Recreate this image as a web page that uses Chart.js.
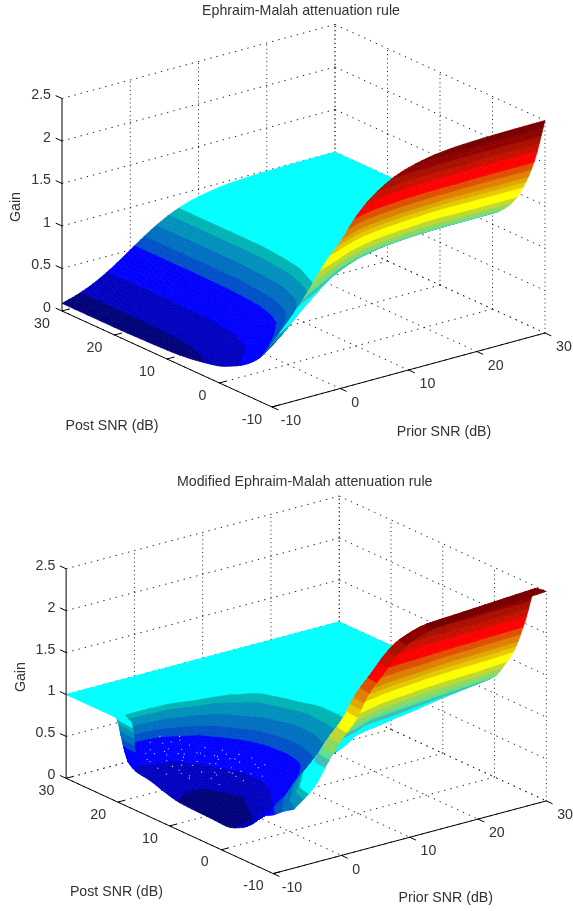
<!DOCTYPE html>
<html>
<head>
<meta charset="utf-8">
<title>Ephraim-Malah attenuation rule</title>
<script src="https://cdn.jsdelivr.net/npm/chart.js@4"></script>
<style>
  html, body { margin: 0; padding: 0; background: #fff; }
  canvas { position: absolute; left: 0; }
</style>
</head>
<body>
<canvas id="topChart" width="573" height="455" style="top:0"></canvas>
<canvas id="bottomChart" width="573" height="456" style="top:455px"></canvas>
<script>
// axis ticks
const priorTicks = [-10, 0, 10, 20, 30];
const postTicks = [30, 20, 10, 0, -10];
const gainTicks = [0, 0.5, 1, 1.5, 2, 2.5];

// top surface, one row per prior value, one column per post value
const emPrior = [30, 24, 18, 14, 10, 8, 6, 4, 2, 0, -2, -4, -6, -8, -10];
const emPost = [30, 20, 15, 10, 6, 4, 2, 0, -2, -4, -6, -8, -10];
const emGain = [
  [1, 1, 1, 1.01, 1.03, 1.05, 1.08, 1.13, 1.23, 1.38, 1.62, 1.97, 2.5],
  [.996, .996, .996, 1.006, 1.026, 1.048, 1.08, 1.128, 1.23, 1.38, 1.62, 1.97, 2.495],
  [.984, .984, .984, .994, 1.013, 1.037, 1.068, 1.117, 1.22, 1.39, 1.63, 1.95, 2.48],
  [.962, .962, .962, .972, .991, 1.015, 1.044, 1.092, 1.193, 1.356, 1.587, 1.924, 2.45],
  [.909, .909, .909, .918, .941, .964, .995, 1.036, 1.145, 1.3, 1.527, 1.864, 2.38],
  [.863, .863, .863, .876, .893, .919, .949, .988, 1.096, 1.25, 1.484, 1.81, 2.32],
  [.8, .8, .8, .812, .832, .856, .888, .928, 1.032, 1.184, 1.408, 1.744, 2.23],
  [.715, .715, .715, .729, .744, .772, .8, .844, .951, 1.1, 1.316, 1.645, 2.11],
  [.613, .613, .613, .625, .644, .665, .7, .748, .846, .993, 1.195, 1.49, 1.94],
  [.5, .5, .505, .513, .535, .555, .585, .635, .735, .87, 1.05, 1.325, 1.72],
  [.387, .387, .391, .399, .418, .441, .476, .522, .615, .739, .91, 1.153, 1.55],
  [.285, .285, .288, .296, .319, .339, .373, .419, .504, .613, .77, .983, 1.325],
  [.2, .2, .204, .214, .234, .256, .288, .328, .4, .5, .63, .81, 1.11],
  [.137, .138, .141, .151, .171, .193, .222, .258, .326, .404, .507, .664, .92],
  [.09, .09, .096, .105, .126, .146, .17, .2, .255, .32, .41, .54, .75],
];

// bottom surface, null where the surface has no value
const modPrior = [30, 24, 18, 14, 10, 8, 6, 4, 2, 0, -2, -4, -7, -8, -10];
const modPost = [30, 26, 24, 22, 20, 18, 15, 12, 9, 6, 3, 0, -2, -4, -6, -8, -10];
const modGain = [
  [1, 1, 1, 1, 1, 1, 1, 1, 1, 1.02, 1.06, 1.2, 1.4, 1.65, 2.05, 2.48, 2.5],
  [1, 1, 1, 1, 1, .98, .97, .96, .96, .97, .99, 1.15, 1.33, 1.58, 1.98, 2.45, 2.47],
  [1, 1, 1, .98, .96, .93, .9, .87, .84, .85, .9, 1.08, 1.27, 1.52, 1.9, 2.42, 2.44],
  [1, 1, 1, .94, .92, .89, .86, .84, .84, .85, .88, 1, 1.22, 1.44, 1.8, 2.4, 2.42],
  [1, 1, .98, .88, .81, .78, .74, .71, .71, .74, .8, .95, 1.15, 1.36, 1.7, 2.3, 2.32],
  [1, 1, .96, .84, .78, .73, .66, .63, .62, .65, .72, .85, 1.05, 1.28, 1.6, 2.18, 2.2],
  [1, 1, .94, .8, .72, .66, .57, .53, .52, .55, .63, .78, .98, 1.2, 1.5, 2, 2.02],
  [1, 1, .92, .76, .64, .56, .47, .42, .41, .45, .55, .7, .9, 1.12, 1.42, 1.82, 1.84],
  [1, 1, .88, .7, .54, .47, .38, .31, .3, .36, .46, .62, .8, 1.02, 1.28, 1.54, 1.56],
  [1, 1, .84, .62, .44, .34, .26, .18, .16, .22, .35, .52, .72, .92, 1.14, 1.36, 1.38],
  [1, 1, .84, .5, .32, .28, .17, .15, .14, .15, .2, .36, .54, .74, .92, 1.13, 1.15],
  [1, 1, .82, .42, .3, .26, .17, .14, .13, .13, .14, .26, .42, .6, .72, .88, .9],
  [1, 1, .84, .36, .28, .26, .2, .155, .145, .14, .13, .2, .3, .45, .52, .62, .7],
  [1, 1, 1, .97, .9, null, null, null, null, null, null, null, null, null, null, null, null],
  [1, 1, 1, 1, 1, null, null, null, null, null, null, null, null, null, null, null, null],
];

// white specks in the lower surface
const speckPrior = [-6.2, -5.4, -5.1, -4.3, -3.9, -4.6, -3.2, -2.7, -3.4, -2.9, -2.2, -1.6, -2.4, -1.8, -.7, -1.3, -.9, -1.2, -.4, .3, -.2, .6, .1, -.3, 1.4, .8, 1.2, .7, 2.3, 1.7, 2.6, 3.4, 2.8, -5.3, -3.3, -.6, 1.3, 3.2, 4.1, -1.7, .4, 2.2, -4.5, -2.4, -.5, 1.6, 3.6, -3.6, -1.4, .5, 2.4, -5.6, -.4, 1.5, -6.6, -4.8, -2.1, .9, 3, 4.6, -3.8, -.8, 1.9, 4.4];
const speckPost = [17.3, 20.4, 14.2, 22.1, 18.6, 15.3, 22.7, 20.2, 16.4, 13.2, 21.3, 18.4, 15.6, 12.1, 23.6, 21.7, 19.2, 16.3, 12.8, 23.3, 20.6, 17.2, 14.4, 10.7, 21.2, 18.3, 15.4, 12.2, 19.4, 16.2, 13.1, 17.5, 14.3, 12.4, 10.8, 9.6, 9.2, 10.3, 15.2, 24.7, 25.6, 24.2, 16.7, 17.6, 14.8, 16.6, 11.4, 21.4, 19.7, 18.6, 14.7, 19.6, 11.2, 23.2, 15.1, 13, 11.3, 10.6, 16.2, 13.4, 8.6, 7.9, 7.8, 10.6];
const speckGain = 0.4;

// colour bands, upper limit of each band and its colour
const bandTops = [.16, .32, .54, .62, .71, .79, .84, 1.1, 1.18, 1.25, 1.35, 1.45, 1.6, 1.68, 1.75, 1.85, 1.95, 2.1, 2.2, 2.3, 2.4, 3];
const bandColors = ["#00007a", "#0000c0", "#0000ff", "#0050c8", "#0070c0", "#0090bc", "#00b4b4", "#00ffff",
  "#40c0b0", "#60e090", "#90d860", "#c0d830", "#ffff00", "#e8c800", "#e0a800", "#e08000", "#e05000",
  "#ff0000", "#c81000", "#a81000", "#900000", "#780000"];

// cells are drawn in this many steps so the contour edges stay smooth
const cellSteps = 4;

// cut a polygon at a gain level
function clipGain(poly, limit, keepBelow) {
  const out = [];
  for (let i = 0; i < poly.length; i++) {
    const a = poly[i], b = poly[(i + 1) % poly.length];
    const aIn = keepBelow ? a[2] <= limit : a[2] >= limit;
    const bIn = keepBelow ? b[2] <= limit : b[2] >= limit;
    if (aIn) out.push(a);
    if (aIn !== bIn) {
      const t = (limit - a[2]) / (b[2] - a[2]);
      out.push([a[0] + t * (b[0] - a[0]), a[1] + t * (b[1] - a[1]), limit]);
    }
  }
  return out;
}

// monotone curve through one line of read values, so a cell never overshoots
function refineLine(xs, ys) {
  let n = ys.findIndex((v) => v === null);
  if (n < 0) n = ys.length;
  const out = new Array((ys.length - 1) * cellSteps + 1).fill(null);
  if (n < 2) {
    if (n === 1) out[0] = ys[0];
    return out;
  }
  const sec = [];
  for (let i = 0; i < n - 1; i++) sec.push((ys[i + 1] - ys[i]) / (xs[i + 1] - xs[i]));
  const m = [];
  for (let i = 0; i < n; i++) {
    if (i === 0) m.push(sec[0]);
    else if (i === n - 1) m.push(sec[n - 2]);
    else if (sec[i - 1] * sec[i] <= 0) m.push(0);
    else m.push(2 * sec[i - 1] * sec[i] / (sec[i - 1] + sec[i]));
  }
  for (let i = 0; i < n - 1; i++) {
    const h = xs[i + 1] - xs[i];
    for (let k = 0; k < cellSteps; k++) {
      const t = k / cellSteps, t2 = t * t, t3 = t2 * t;
      out[i * cellSteps + k] = (2 * t3 - 3 * t2 + 1) * ys[i] + (t3 - 2 * t2 + t) * h * m[i]
        + (-2 * t3 + 3 * t2) * ys[i + 1] + (t3 - t2) * h * m[i + 1];
    }
  }
  out[(n - 1) * cellSteps] = ys[n - 1];
  return out;
}

function fineAxis(xs) {
  const out = [];
  for (let i = 0; i < xs.length - 1; i++) {
    for (let k = 0; k < cellSteps; k++) out.push(xs[i] + (xs[i + 1] - xs[i]) * k / cellSteps);
  }
  out.push(xs[xs.length - 1]);
  return out;
}

function buildSurface(project, priors, posts, gains) {
  const byPost = gains.map((row) => refineLine(posts, row));
  const fineP = fineAxis(priors), fineQ = fineAxis(posts);
  const columns = fineQ.map((q, j) => refineLine(priors, byPost.map((row) => row[j])));
  const z = (i, j) => columns[j][i];

  const sets = [];
  // far corner first so nearer cells paint over it
  for (let ci = 0; ci < priors.length - 1; ci++) {
    for (let cj = 0; cj < posts.length - 1; cj++) {
      const bands = bandTops.map(() => []);
      for (let i = ci * cellSteps; i < (ci + 1) * cellSteps; i++) {
        for (let j = cj * cellSteps; j < (cj + 1) * cellSteps; j++) {
          const g = [z(i, j), z(i + 1, j), z(i + 1, j + 1), z(i, j + 1)];
          if (g.includes(null)) continue;
          const a = [fineP[i], fineQ[j], g[0]];
          const b = [fineP[i + 1], fineQ[j], g[1]];
          const c = [fineP[i + 1], fineQ[j + 1], g[2]];
          const d = [fineP[i], fineQ[j + 1], g[3]];
          [[a, b, c], [a, c, d]].forEach((tri) => {
            let lo = 0;
            bandTops.forEach((hi, b2) => {
              let poly = clipGain(tri, lo, false);
              if (poly.length) poly = clipGain(poly, hi, true);
              lo = hi;
              if (poly.length < 3) return;
              const pts = poly.map((v) => project(v[0], v[1], v[2]));
              pts.push(pts[0]);
              if (bands[b2].length) bands[b2].push({ x: NaN, y: NaN });
              bands[b2].push(...pts);
            });
          });
        }
      }
      bands.forEach((data, b2) => {
        if (!data.length) return;
        sets.push({
          data,
          fill: "shape",
          backgroundColor: bandColors[b2],
          borderColor: bandColors[b2],
          borderWidth: 0.7,
          // a dash list keeps every vertex, the plain path merges points per pixel
          borderDash: [10000, 0],
        });
      });
    }
  }
  return sets;
}

function buildBox(project) {
  const dotted = (from, to, dash) => ({
    data: [project(...from), project(...to)],
    borderColor: "#222",
    borderWidth: 1,
    borderDash: dash,
  });
  const solid = (from, to) => ({
    data: [project(...from), project(...to)],
    borderColor: "#000",
    borderWidth: 1,
  });
  const back = [], front = [];
  const slanted = [1.4, 5], upright = [1, 3.2];
  priorTicks.forEach((p) => {
    back.push(dotted([p, 30, 0], [p, -10, 0], slanted));
    if (p > -10) back.push(dotted([p, 30, 0], [p, 30, 2.5], upright));
  });
  postTicks.forEach((q) => {
    back.push(dotted([-10, q, 0], [30, q, 0], slanted));
    back.push(dotted([30, q, 0], [30, q, 2.5], upright));
  });
  gainTicks.forEach((z) => {
    back.push(dotted([-10, 30, z], [30, 30, z], slanted));
    back.push(dotted([30, 30, z], [30, -10, z], slanted));
    front.push(solid([-10, 30, z], [-10, 31.2, z]));
  });
  front.push(solid([-10, 30, 0], [-10, 30, 2.5]));
  front.push(solid([-10, 30, 0], [-10, -10, 0]));
  front.push(solid([-10, -10, 0], [30, -10, 0]));
  postTicks.forEach((q) => front.push(solid([-10, q, 0], [-9, q, 0])));
  priorTicks.forEach((p) => front.push(solid([p, -10, 0], [p, -11.2, 0])));
  return { back, front };
}

const textPlugin = {
  id: "plotText",
  afterDraw(chart, args, opts) {
    const ctx = chart.ctx;
    const sx = chart.scales.x, sy = chart.scales.y;
    ctx.save();
    ctx.fillStyle = "#333";
    ctx.font = '14.2px "Liberation Sans"';
    ctx.textBaseline = "middle";
    opts.items.forEach((t) => {
      ctx.save();
      ctx.translate(sx.getPixelForValue(t.x), sy.getPixelForValue(t.y));
      if (t.rotate) ctx.rotate(t.rotate);
      ctx.textAlign = t.align || "center";
      ctx.fillText(t.text, 0, 0);
      ctx.restore();
    });
    ctx.restore();
  },
};

function drawPlot(id, view, title, priors, posts, gains, specks) {
  const project = (p, q, z) => ({
    x: view.origin[0] + (p + 10) * view.priorStep[0] + (30 - q) * view.postStep[0],
    y: view.origin[1] + (p + 10) * view.priorStep[1] + (30 - q) * view.postStep[1] - z * view.gainStep,
  });

  const box = buildBox(project);
  const surface = buildSurface(project, priors, posts, gains);
  const extra = specks ? [{
    data: speckPrior.map((p, i) => project(p, speckPost[i], speckGain)),
    showLine: false,
    pointRadius: 0.6,
    pointBorderWidth: 0,
    pointBackgroundColor: "#dfe8ff",
  }] : [];

  const items = [
    { text: title, x: view.titleAt[0], y: view.titleAt[1] },
    { text: "Gain", x: view.gainAt[0], y: view.gainAt[1], rotate: -Math.PI / 2 },
    { text: "Post SNR (dB)", x: view.postAt[0], y: view.postAt[1] },
    { text: "Prior SNR (dB)", x: view.priorAt[0], y: view.priorAt[1] },
  ];
  gainTicks.forEach((z) => {
    const at = project(-10, 30, z);
    items.push({ text: String(z), x: at.x - 11, y: at.y - 3, align: "right" });
  });
  postTicks.forEach((q) => {
    const at = project(-10, q, 0);
    items.push({ text: String(q), x: at.x - (q === 0 ? 17 : 20), y: at.y + 13 });
  });
  priorTicks.forEach((p) => {
    const at = project(p, -10, 0);
    items.push({ text: String(p), x: at.x + (p === 0 ? 15 : 19), y: at.y + 14.5 });
  });

  // the library paints dataset 0 last
  const datasets = [...box.back, ...surface, ...extra, ...box.front].reverse();
  datasets.forEach((d) => {
    d.pointRadius = d.pointRadius || 0;
    d.tension = 0;
  });

  return new Chart(document.getElementById(id), {
    type: "line",
    data: { datasets },
    plugins: [textPlugin],
    options: {
      responsive: false,
      animation: false,
      devicePixelRatio: 1,
      events: [],
      layout: { padding: 0 },
      scales: {
        x: { type: "linear", display: false, min: 0, max: 573 },
        y: { type: "linear", display: false, reverse: true, min: view.yRange[0], max: view.yRange[1] },
      },
      plugins: {
        legend: { display: false },
        tooltip: { enabled: false },
        plotText: { items },
      },
    },
  });
}

drawPlot("topChart", {
  origin: [62, 311], priorStep: [6.825, -1.85], postStep: [5.25, 2.4], gainStep: 85,
  yRange: [0, 455], titleAt: [301, 11], gainAt: [16, 207], postAt: [112, 426], priorAt: [444, 432],
}, "Ephraim-Malah attenuation rule", emPrior, emPost, emGain, false);

drawPlot("bottomChart", {
  origin: [63, 780], priorStep: [6.925, -1.85], postStep: [5.25, 2.425], gainStep: 85.3,
  yRange: [455, 911], titleAt: [305, 479], gainAt: [17, 677], postAt: [114, 896], priorAt: [448, 902],
}, "Modified Ephraim-Malah attenuation rule", modPrior, modPost, modGain, true);
</script>
</body>
</html>
